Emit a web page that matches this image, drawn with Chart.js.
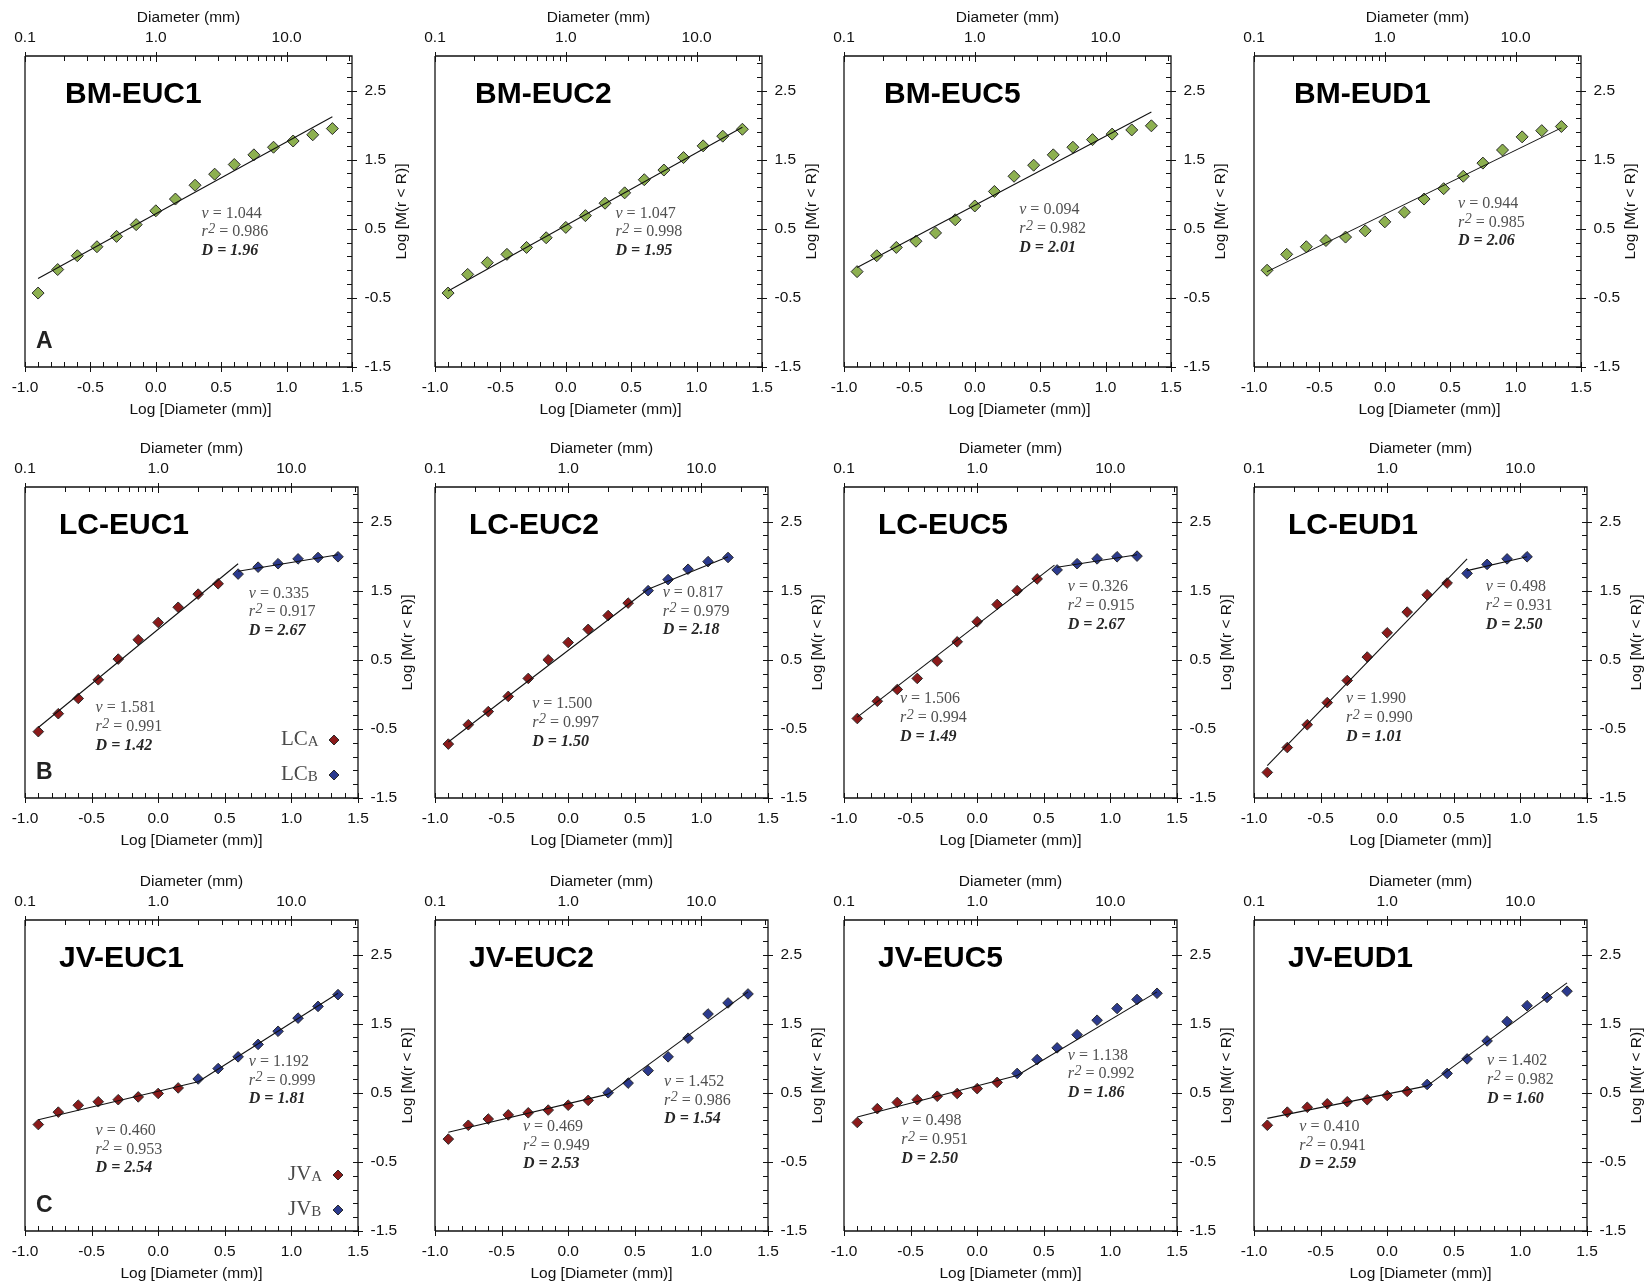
<!DOCTYPE html>
<html>
<head>
<meta charset="utf-8">
<script src="https://cdn.jsdelivr.net/npm/chart.js@4.4.1/dist/chart.umd.min.js"></script>
<style>
  html, body { margin: 0; padding: 0; background: #fff; overflow: hidden; }
  #wrap { position: relative; width: 1650px; height: 1288px; }
  #wrap canvas { position: absolute; }
</style>
</head>
<body>
<div id="wrap"></div>
<script>
// log of diameter (mm) for each size class
const logDiam = [-0.9, -0.75, -0.6, -0.45, -0.3, -0.15, 0, 0.15, 0.3, 0.45, 0.6, 0.75, 0.9, 1.05, 1.2, 1.35];

// axis tick labels
const bottomTicks = [-1, -0.5, 0, 0.5, 1, 1.5];
const rightTicks = [-1.5, -0.5, 0.5, 1.5, 2.5];
const topTicks = [-1, 0, 1];
const topLabels = ['0.1', '1.0', '10.0'];

// BM row (single regression)
const bmEuc1 = [-0.43, -0.09, 0.11, 0.24, 0.39, 0.56, 0.76, 0.93, 1.13, 1.29, 1.43, 1.57, 1.68, 1.77, 1.86, 1.95];
const bmEuc1Fit = [[-0.9, -0.22], [1.35, 2.12]];
const bmEuc1Stats = ['1.044', '0.986', '1.96'];

const bmEuc2 = [-0.43, -0.16, 0.01, 0.13, 0.23, 0.37, 0.52, 0.69, 0.87, 1.02, 1.21, 1.35, 1.53, 1.70, 1.84, 1.94];
const bmEuc2Fit = [[-0.9, -0.40], [1.35, 1.97]];
const bmEuc2Stats = ['1.047', '0.998', '1.95'];

const bmEuc5 = [-0.12, 0.11, 0.23, 0.32, 0.44, 0.63, 0.83, 1.04, 1.26, 1.42, 1.57, 1.68, 1.79, 1.87, 1.93, 1.99];
const bmEuc5Fit = [[-0.9, -0.06], [1.35, 2.19]];
const bmEuc5Stats = ['0.094', '0.982', '2.01'];

const bmEud1 = [-0.10, 0.13, 0.24, 0.33, 0.38, 0.47, 0.60, 0.74, 0.93, 1.08, 1.26, 1.45, 1.64, 1.83, 1.92, 1.98];
const bmEud1Fit = [[-0.9, -0.12], [1.35, 1.96]];
const bmEud1Stats = ['0.944', '0.985', '2.06'];

// LC row (A = small sizes, B = large sizes)
const lcEuc1A = [-0.54, -0.28, -0.06, 0.21, 0.51, 0.79, 1.04, 1.26, 1.45, 1.60];
const lcEuc1B = [1.74, 1.84, 1.89, 1.96, 1.98, 1.99];
const lcEuc1FitA = [[-0.9, -0.48], [0.6, 1.89]];
const lcEuc1FitB = [[0.6, 1.78], [1.35, 2.02]];
const lcEuc1StatsA = ['1.581', '0.991', '1.42'];
const lcEuc1StatsB = ['0.335', '0.917', '2.67'];

const lcEuc2A = [-0.72, -0.44, -0.25, -0.03, 0.23, 0.50, 0.75, 0.94, 1.14, 1.32];
const lcEuc2B = [1.50, 1.66, 1.81, 1.92, 1.98];
const lcEuc2FitA = [[-0.9, -0.69], [0.6, 1.52]];
const lcEuc2FitB = [[0.6, 1.52], [1.2, 1.99]];
const lcEuc2StatsA = ['1.500', '0.997', '1.50'];
const lcEuc2StatsB = ['0.817', '0.979', '2.18'];

const lcEuc5A = [-0.35, -0.10, 0.07, 0.23, 0.48, 0.76, 1.05, 1.30, 1.50, 1.67];
const lcEuc5B = [1.80, 1.89, 1.96, 1.99, 2.00];
const lcEuc5FitA = [[-0.9, -0.33], [0.58, 1.87]];
const lcEuc5FitB = [[0.6, 1.84], [1.2, 2.02]];
const lcEuc5StatsA = ['1.506', '0.994', '1.49'];
const lcEuc5StatsB = ['0.326', '0.915', '2.67'];

const lcEud1A = [-1.13, -0.77, -0.44, -0.12, 0.20, 0.54, 0.89, 1.19, 1.44, 1.61];
const lcEud1B = [1.75, 1.88, 1.96, 1.99];
const lcEud1FitA = [[-0.9, -1.03], [0.6, 1.96]];
const lcEud1FitB = [[0.6, 1.79], [1.05, 1.99]];
const lcEud1StatsA = ['1.990', '0.990', '1.01'];
const lcEud1StatsB = ['0.498', '0.931', '2.50'];

// JV row
const jvEuc1A = [0.04, 0.22, 0.32, 0.37, 0.40, 0.44, 0.49, 0.57];
const jvEuc1B = [0.70, 0.85, 1.02, 1.20, 1.39, 1.58, 1.75, 1.92];
const jvEuc1FitA = [[-0.9, 0.11], [0.3, 0.66]];
const jvEuc1FitB = [[0.3, 0.66], [1.35, 1.94]];
const jvEuc1StatsA = ['0.460', '0.953', '2.54'];
const jvEuc1StatsB = ['1.192', '0.999', '1.81'];

const jvEuc2A = [-0.17, 0.03, 0.12, 0.18, 0.21, 0.25, 0.32, 0.39];
const jvEuc2B = [0.50, 0.64, 0.82, 1.02, 1.29, 1.64, 1.80, 1.93];
const jvEuc2FitA = [[-0.9, -0.07], [0.3, 0.48]];
const jvEuc2FitB = [[0.3, 0.48], [1.35, 1.96]];
const jvEuc2StatsA = ['0.469', '0.949', '2.53'];
const jvEuc2StatsB = ['1.452', '0.986', '1.54'];

const jvEuc5A = [0.07, 0.27, 0.36, 0.40, 0.45, 0.49, 0.56, 0.65];
const jvEuc5B = [0.78, 0.98, 1.15, 1.34, 1.55, 1.72, 1.85, 1.94];
const jvEuc5FitA = [[-0.9, 0.15], [0.3, 0.75]];
const jvEuc5FitB = [[0.3, 0.75], [1.35, 1.96]];
const jvEuc5StatsA = ['0.498', '0.951', '2.50'];
const jvEuc5StatsB = ['1.138', '0.992', '1.86'];

const jvEud1A = [0.03, 0.22, 0.29, 0.34, 0.37, 0.40, 0.46, 0.52];
const jvEud1B = [0.62, 0.78, 0.99, 1.25, 1.53, 1.76, 1.88, 1.97];
const jvEud1FitA = [[-0.9, 0.13], [0.3, 0.60]];
const jvEud1FitB = [[0.3, 0.60], [1.35, 2.09]];
const jvEud1StatsA = ['0.410', '0.941', '2.59'];
const jvEud1StatsB = ['1.402', '0.982', '1.60'];

const GREEN = '#8db050';
const RED = '#8b1a1a';
const BLUE = '#2b3a8e';
const SANS = "'Liberation Sans', Arial, sans-serif";
const SERIF = "'Liberation Serif', 'Times New Roman', serif";

// minor tick positions
const bottomMinor = [];
for (let i = 0; i <= 25; i++) bottomMinor.push(Math.round((-1 + i * 0.1) * 10) / 10);
const rightMinor = [];
for (let i = 0; i <= 22; i++) rightMinor.push(Math.round((-1.5 + i * 0.2) * 10) / 10);
const topMinor = [];
[-1, 0, 1].forEach(e => { for (let k = 1; k <= 9; k++) { const v = e + Math.log10(k); if (v <= 1.5) topMinor.push(v); } });

const near = (v, list) => list.findIndex(t => Math.abs(t - v) < 1e-6);

// page layout
const colX = [0, 410, 819, 1229];
const rowY = [0, 431, 864];

const panels = [
  { row: 0, col: 0, name: 'BM-EUC1', letter: 'A', a: bmEuc1, fitA: bmEuc1Fit, statsA: bmEuc1Stats, noteA: [0.35, 0.72] },
  { row: 0, col: 1, name: 'BM-EUC2', a: bmEuc2, fitA: bmEuc2Fit, statsA: bmEuc2Stats, noteA: [0.38, 0.72] },
  { row: 0, col: 2, name: 'BM-EUC5', a: bmEuc5, fitA: bmEuc5Fit, statsA: bmEuc5Stats, noteA: [0.34, 0.77] },
  { row: 0, col: 3, name: 'BM-EUD1', a: bmEud1, fitA: bmEud1Fit, statsA: bmEud1Stats, noteA: [0.56, 0.86] },
  { row: 1, col: 0, name: 'LC-EUC1', letter: 'B', legend: 'LC', a: lcEuc1A, b: lcEuc1B, fitA: lcEuc1FitA, fitB: lcEuc1FitB, statsA: lcEuc1StatsA, statsB: lcEuc1StatsB, noteA: [-0.47, -0.2], noteB: [0.68, 1.46] },
  { row: 1, col: 1, name: 'LC-EUC2', a: lcEuc2A, b: lcEuc2B, fitA: lcEuc2FitA, fitB: lcEuc2FitB, statsA: lcEuc2StatsA, statsB: lcEuc2StatsB, noteA: [-0.27, -0.14], noteB: [0.71, 1.47] },
  { row: 1, col: 2, name: 'LC-EUC5', a: lcEuc5A, b: lcEuc5B, fitA: lcEuc5FitA, fitB: lcEuc5FitB, statsA: lcEuc5StatsA, statsB: lcEuc5StatsB, noteA: [-0.58, -0.07], noteB: [0.68, 1.55] },
  { row: 1, col: 3, name: 'LC-EUD1', a: lcEud1A, b: lcEud1B, fitA: lcEud1FitA, fitB: lcEud1FitB, statsA: lcEud1StatsA, statsB: lcEud1StatsB, noteA: [-0.31, -0.07], noteB: [0.74, 1.55] },
  { row: 2, col: 0, name: 'JV-EUC1', letter: 'C', legend: 'JV', a: jvEuc1A, b: jvEuc1B, fitA: jvEuc1FitA, fitB: jvEuc1FitB, statsA: jvEuc1StatsA, statsB: jvEuc1StatsB, noteA: [-0.47, -0.05], noteB: [0.68, 0.95] },
  { row: 2, col: 1, name: 'JV-EUC2', a: jvEuc2A, b: jvEuc2B, fitA: jvEuc2FitA, fitB: jvEuc2FitB, statsA: jvEuc2StatsA, statsB: jvEuc2StatsB, noteA: [-0.34, 0.01], noteB: [0.72, 0.66] },
  { row: 2, col: 2, name: 'JV-EUC5', a: jvEuc5A, b: jvEuc5B, fitA: jvEuc5FitA, fitB: jvEuc5FitB, statsA: jvEuc5StatsA, statsB: jvEuc5StatsB, noteA: [-0.57, 0.09], noteB: [0.68, 1.04] },
  { row: 2, col: 3, name: 'JV-EUD1', a: jvEud1A, b: jvEud1B, fitA: jvEud1FitA, fitB: jvEud1FitB, statsA: jvEud1StatsA, statsB: jvEud1StatsB, noteA: [-0.66, 0.01], noteB: [0.75, 0.96] },
];

function diamond(ctx, x, y, r, fill) {
  ctx.beginPath();
  ctx.moveTo(x - r, y); ctx.lineTo(x, y - r); ctx.lineTo(x + r, y); ctx.lineTo(x, y + r);
  ctx.closePath();
  ctx.fillStyle = fill; ctx.fill();
  ctx.lineWidth = 1; ctx.strokeStyle = '#2a2a2a'; ctx.stroke();
}

function drawNote(ctx, x, y, s) {
  const reg = '16px ' + SERIF, ital = 'italic 16px ' + SERIF;
  ctx.textAlign = 'left'; ctx.textBaseline = 'middle';
  ctx.fillStyle = '#505050';
  ctx.font = ital; ctx.fillText('v', x, y);
  let w = ctx.measureText('v').width;
  ctx.font = reg; ctx.fillText(' = ' + s[0], x + w, y);
  y += 18.7;
  ctx.font = ital; ctx.fillText('r', x, y);
  w = ctx.measureText('r').width + 0.5;
  ctx.font = 'italic 14px ' + SERIF; ctx.fillText('2', x + w, y - 3);
  w += ctx.measureText('2').width;
  ctx.font = reg; ctx.fillText(' = ' + s[1], x + w, y);
  y += 18.7;
  ctx.fillStyle = '#262626';
  ctx.font = 'italic bold 16px ' + SERIF; ctx.fillText('D = ' + s[2], x, y);
}

// frame, ticks, titles and text
const deco = {
  id: 'deco',
  afterDraw(chart, args, o) {
    const p = o.panel;
    const ctx = chart.ctx, a = chart.chartArea;
    const sx = chart.scales.x, st = chart.scales.x2, sy = chart.scales.y;
    ctx.save();

    ctx.lineWidth = 1.3; ctx.strokeStyle = '#111';
    ctx.beginPath();
    ctx.moveTo(a.left, a.top); ctx.lineTo(a.right, a.top); ctx.lineTo(a.right, a.bottom); ctx.lineTo(a.left, a.bottom);
    ctx.stroke();
    ctx.lineWidth = 2; ctx.strokeStyle = '#666';
    ctx.beginPath(); ctx.moveTo(a.left, a.top); ctx.lineTo(a.left, a.bottom); ctx.stroke();

    ctx.lineWidth = 1; ctx.strokeStyle = '#111';
    ctx.beginPath();
    sx.ticks.forEach(t => {
      const px = Math.round(sx.getPixelForValue(t.value)) + 0.5;
      const major = near(t.value, bottomTicks) >= 0;
      ctx.moveTo(px, a.bottom - 5); ctx.lineTo(px, a.bottom + (major ? 5 : 0));
    });
    st.ticks.forEach(t => {
      const px = Math.round(st.getPixelForValue(t.value)) + 0.5;
      const major = near(t.value, topTicks) >= 0;
      ctx.moveTo(px, a.top + (major ? 6 : 5)); ctx.lineTo(px, a.top - (major ? 4 : 0));
    });
    sy.ticks.forEach(t => {
      const py = Math.round(sy.getPixelForValue(t.value)) + 0.5;
      const major = near(t.value, rightTicks) >= 0;
      ctx.moveTo(a.right - 5, py); ctx.lineTo(a.right + (major ? 5 : 0), py);
    });
    ctx.stroke();

    // axis titles
    const cx = (a.left + a.right) / 2;
    ctx.fillStyle = '#111'; ctx.font = '15.5px ' + SANS;
    ctx.textAlign = 'center'; ctx.textBaseline = 'middle';
    ctx.fillText('Diameter (mm)', cx, a.top - 38);
    ctx.fillText('Log [Diameter (mm)]', cx + (p.row === 0 ? 12 : 0), a.bottom + 43);
    ctx.save();
    ctx.translate(a.right + 50, (a.top + a.bottom) / 2);
    ctx.rotate(-Math.PI / 2);
    ctx.fillText('Log [M(r < R)]', 0, 0);
    ctx.restore();

    // panel name and letter
    ctx.textAlign = 'left'; ctx.textBaseline = 'alphabetic';
    ctx.fillStyle = '#000'; ctx.font = 'bold 30px ' + SANS;
    ctx.fillText(p.name, a.left + (p.row === 0 ? 40 : 34), a.top + 47);
    if (p.letter) {
      ctx.fillStyle = '#222'; ctx.font = 'bold 23px ' + SANS;
      ctx.fillText(p.letter, a.left + 11, a.bottom - 19);
    }

    // regression notes
    drawNote(ctx, sx.getPixelForValue(p.noteA[0]), sy.getPixelForValue(p.noteA[1]), p.statsA);
    if (p.statsB) drawNote(ctx, sx.getPixelForValue(p.noteB[0]), sy.getPixelForValue(p.noteB[1]), p.statsB);

    // legend
    if (p.legend) {
      const lx = a.left + (p.legend === 'LC' ? 256 : 263);
      const dx = a.left + (p.legend === 'LC' ? 309 : 313);
      [['A', RED], ['B', BLUE]].forEach(([sub, col], i) => {
        const base = a.top + (p.legend === 'LC' ? 258 : 260) + i * 35;
        ctx.textAlign = 'left'; ctx.textBaseline = 'alphabetic';
        ctx.fillStyle = '#4a4a4a';
        ctx.font = '21px ' + SERIF; ctx.fillText(p.legend, lx, base);
        const w = ctx.measureText(p.legend).width;
        ctx.font = '15px ' + SERIF; ctx.fillText(sub, lx + w, base + 1);
        diamond(ctx, dx, base - 5, 5, col);
      });
    }
    ctx.restore();
  }
};

const wrap = document.getElementById('wrap');
const tickFont = { family: SANS, size: 15.5 };

panels.forEach(p => {
  const cv = document.createElement('canvas');
  cv.width = 420; cv.height = 424;
  cv.style.left = colX[p.col] + 'px';
  cv.style.top = rowY[p.row] + 'px';
  wrap.appendChild(cv);

  const plotW = p.row === 0 ? 327 : 333;
  const pts = (vals, start) => vals.map((v, i) => ({ x: logDiam[start + i], y: v }));
  const seg = f => f.map(([x, y]) => ({ x, y }));
  const marker = { pointStyle: 'rectRot', borderColor: '#2a2a2a', borderWidth: 1, order: 2 };
  const fitLine = { showLine: true, pointRadius: 0, borderColor: '#111', borderWidth: 1.1, order: 0 };

  const datasets = [
    { ...marker, data: pts(p.a, 0), backgroundColor: p.b ? RED : GREEN, pointRadius: p.b ? 5.3 : 6 },
    { ...fitLine, data: seg(p.fitA) },
  ];
  if (p.b) {
    datasets.push({ ...marker, data: pts(p.b, p.a.length), backgroundColor: BLUE, pointRadius: 5.3 });
    datasets.push({ ...fitLine, data: seg(p.fitB) });
  }

  new Chart(cv, {
    type: 'scatter',
    data: { datasets: datasets },
    plugins: [deco],
    options: {
      responsive: false,
      animation: false,
      devicePixelRatio: 1,
      layout: { padding: { left: 25, right: 0, top: 0, bottom: 0 } },
      plugins: { legend: { display: false }, tooltip: { enabled: false }, deco: { panel: p } },
      scales: {
        x: {
          type: 'linear', position: 'bottom', min: -1, max: 1.5,
          afterBuildTicks: s => { s.ticks = bottomMinor.map(v => ({ value: v })); },
          afterFit: s => { s.height = 57; },
          grid: { display: false, drawTicks: false }, border: { display: false },
          ticks: { autoSkip: false, maxRotation: 0, padding: 11, color: '#111', font: tickFont,
            callback: v => near(v, bottomTicks) >= 0 ? v.toFixed(1) : '' }
        },
        x2: {
          type: 'linear', position: 'top', min: -1, max: 1.5,
          afterBuildTicks: s => { s.ticks = topMinor.map(v => ({ value: v })); },
          afterFit: s => { s.height = 56; },
          grid: { display: false, drawTicks: false }, border: { display: false },
          ticks: { autoSkip: false, maxRotation: 0, padding: 9, color: '#111', font: tickFont,
            callback: v => { const i = near(v, topTicks); return i >= 0 ? topLabels[i] : ''; } }
        },
        y: {
          type: 'linear', position: 'right', min: -1.5, max: 3,
          afterBuildTicks: s => { s.ticks = rightMinor.map(v => ({ value: v })); },
          afterFit: s => { s.width = 420 - 25 - plotW; },
          grid: { display: false, drawTicks: false }, border: { display: false },
          ticks: { autoSkip: false, padding: 12.5, color: '#111', font: tickFont,
            callback: v => near(v, rightTicks) >= 0 ? v.toFixed(1) : '' }
        }
      }
    }
  });
});
</script>
</body>
</html>
